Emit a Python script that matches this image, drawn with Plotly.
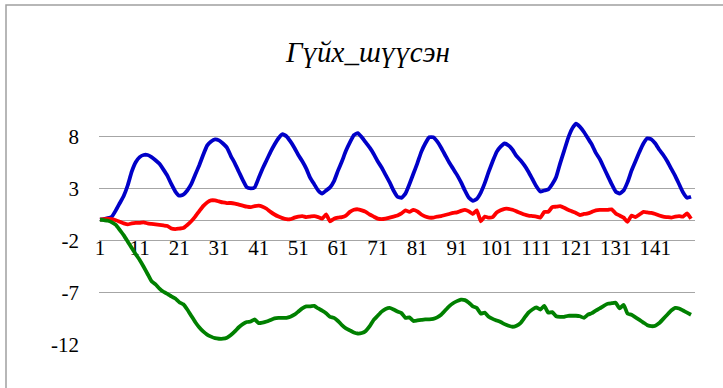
import plotly.graph_objects as go

# Category index 1..150
categories = list(range(1, 151))

blue_values = [
    0.0, 0.05, 0.15, 0.3, 0.9, 1.6, 2.3, 3.3, 4.6, 5.5,
    6.0, 6.2, 6.2, 6.0, 5.7, 5.35, 4.8, 4.2, 3.4, 2.7,
    2.3, 2.4, 2.8, 3.4, 4.3, 5.2, 6.2, 7.1, 7.5, 7.7,
    7.6, 7.3, 6.9, 6.1, 5.4, 4.6, 3.8, 3.1, 3.0, 3.1,
    4.0, 4.9, 5.7, 6.5, 7.2, 7.8, 8.2, 8.0, 7.5, 6.9,
    6.2, 5.6, 4.9, 4.0, 3.4, 2.8, 2.5, 2.8, 3.1, 3.7,
    4.7, 5.6, 6.6, 7.4, 8.1, 8.3, 7.9, 7.4, 6.9, 6.3,
    5.6, 5.0, 4.3, 3.6, 2.8, 2.2, 2.1, 2.5, 3.4, 4.4,
    5.4, 6.5, 7.3, 7.9, 7.9, 7.5, 6.9, 6.2, 5.5, 4.9,
    4.3, 3.6, 2.8, 2.1, 1.8, 2.0, 2.6, 3.5, 4.6, 5.6,
    6.5, 7.0, 7.3, 7.1, 6.7, 6.1, 5.7, 5.2, 4.6, 3.9,
    3.2, 2.7, 2.8, 2.9, 3.4, 4.1, 5.4, 6.6, 7.8, 8.7,
    9.2, 8.9, 8.4, 7.8, 7.2, 6.4, 5.8, 5.0, 4.2, 3.4,
    2.7, 2.5, 2.8, 3.6, 4.7, 5.6, 6.5, 7.3, 7.8, 7.7,
    7.3, 6.7, 6.2, 5.6, 4.9, 4.2, 3.4, 2.6, 2.1, 2.2,
]

red_values = [
    0.0, 0.05, 0.1, 0.05, -0.05, -0.2, -0.35, -0.45, -0.35, -0.3,
    -0.3, -0.25, -0.35, -0.4, -0.45, -0.5, -0.55, -0.6, -0.85, -0.9,
    -0.85, -0.8, -0.5, -0.15, 0.3, 0.8, 1.3, 1.65, 1.85, 1.85,
    1.75, 1.65, 1.6, 1.6, 1.55, 1.45, 1.35, 1.25, 1.2, 1.3,
    1.35, 1.25, 1.05, 0.75, 0.5, 0.3, 0.15, 0.05, 0.05, 0.2,
    0.3, 0.35, 0.25, 0.3, 0.35, 0.25, 0.1, 0.5, -0.15, 0.1,
    0.2, 0.25, 0.4, 0.75, 0.95, 1.0, 0.9, 0.75, 0.5, 0.3,
    0.1, 0.05, 0.1, 0.2, 0.3, 0.4, 0.6, 0.9, 0.75, 0.95,
    0.8, 0.5, 0.3, 0.2, 0.2, 0.3, 0.35, 0.45, 0.55, 0.65,
    0.7, 0.85, 0.95, 0.8, 0.55, 0.9, -0.15, 0.3, 0.2, 0.25,
    0.7, 0.9, 1.05, 1.05, 0.95, 0.8, 0.65, 0.5, 0.4, 0.35,
    0.3, 0.2, 0.75, 0.75, 1.2, 1.25, 1.3, 1.15, 0.95, 0.8,
    0.65, 0.45, 0.55, 0.6, 0.75, 0.9, 0.95, 0.95, 0.95, 1.0,
    0.6, 0.4, 0.2, -0.2, 0.4, 0.25, 0.5, 0.75, 0.7, 0.65,
    0.55, 0.4, 0.3, 0.25, 0.2, 0.3, 0.35, 0.3, 0.6, 0.1,
]

green_values = [
    0.0, -0.05, -0.1, -0.25, -0.5, -1.0, -1.5, -2.1, -2.7, -3.3,
    -3.85, -4.5, -5.2, -5.9, -6.2, -6.6, -6.9, -7.1, -7.35, -7.55,
    -7.9, -8.1, -8.6, -9.2, -9.8, -10.3, -10.7, -11.0, -11.2, -11.35,
    -11.4, -11.4, -11.3, -11.05, -10.7, -10.3, -10.0, -9.8, -9.75, -9.55,
    -9.9, -9.85, -9.75, -9.6, -9.45, -9.4, -9.4, -9.4, -9.3, -9.1,
    -8.8, -8.5, -8.3, -8.3, -8.25, -8.5, -8.7, -8.95, -9.3, -9.4,
    -9.7, -10.1, -10.4, -10.6, -10.8, -10.9, -10.85, -10.65, -10.2, -9.6,
    -9.2, -8.8, -8.55, -8.45, -8.6, -8.8, -8.95, -9.4, -9.35, -9.7,
    -9.65, -9.6, -9.55, -9.55, -9.5, -9.35, -9.1, -8.7, -8.3, -8.0,
    -7.8, -7.65, -7.7, -7.95, -8.3, -8.45, -9.0, -8.9, -9.3, -9.5,
    -9.65, -9.8, -10.0, -10.15, -10.25, -10.15, -9.9, -9.4, -8.9, -8.6,
    -8.4, -8.6, -8.25, -8.9, -8.85, -9.25, -9.3, -9.3, -9.2, -9.2,
    -9.2, -9.25, -9.4, -9.1, -8.95, -8.7, -8.5, -8.25, -8.05, -8.0,
    -7.95, -8.5, -8.15, -9.0, -9.1, -9.35, -9.6, -9.85, -10.1, -10.2,
    -10.15, -9.9, -9.5, -9.1, -8.7, -8.45, -8.5, -8.7, -8.9, -9.1,
]

x_tick_values = list(range(1, 150, 10))
x_tick_labels = [str(v) for v in x_tick_values]
y_tick_values = [-12, -7, -2, 3, 8]
y_tick_labels = ["-12", "-7", "-2", "3", "8"]

title_text = "Гүйх_шүүсэн"

SERIF = "Liberation Serif"
GRID = "#a6a6a6"
Y_MIN, Y_MAX = -12, 13

fig = go.Figure()
for vals, color in ((blue_values, "#0000c8"),
                    (red_values, "#ff0000"),
                    (green_values, "#008000")):
    fig.add_trace(go.Scatter(
        x=categories, y=vals, mode="lines",
        line=dict(color=color, width=3.8, shape="spline", smoothing=0.4),
        showlegend=False, hoverinfo="skip",
    ))

# horizontal axis sits on the zero value of the vertical axis
zero_pos = (0 - Y_MIN) / (Y_MAX - Y_MIN)

fig.update_layout(
    width=723, height=388,
    margin=dict(l=99, r=28, t=84, b=43),
    paper_bgcolor="white", plot_bgcolor="white",
    font=dict(family=SERIF, color="#000000"),
    title=dict(
        text="<i>" + title_text + "</i>",
        font=dict(family=SERIF, size=29, color="#000000"),
        xref="container", x=368 / 723, xanchor="center",
        yref="container", y=1 - 52 / 388, yanchor="middle",
    ),
    xaxis=dict(
        range=[0.75, 151], tickvals=x_tick_values, ticktext=x_tick_labels,
        showgrid=False, zeroline=False, showline=True,
        linecolor=GRID, linewidth=1.2, ticks="",
        anchor="free", position=zero_pos, layer="below traces",
        tickfont=dict(family=SERIF, size=21, color="#000000"),
        ticklabelstandoff=9,
    ),
    yaxis=dict(
        range=[Y_MIN, Y_MAX], tickvals=y_tick_values, ticktext=y_tick_labels,
        showgrid=True, gridcolor=GRID, gridwidth=1.2,
        zeroline=False, showline=False, ticks="",
        tickfont=dict(family=SERIF, size=21, color="#000000"),
        ticklabelstandoff=19,
    ),
    shapes=[dict(
        type="rect", xref="paper", yref="paper",
        x0=(6 - 99) / 596, x1=(740 - 99) / 596,
        y0=(345 - 400) / 261, y1=(345 - 5) / 261,
        line=dict(color="#a0a0a0", width=1.5), fillcolor="rgba(0,0,0,0)",
        layer="below",
    )],
)

fig.write_html("out.html")
